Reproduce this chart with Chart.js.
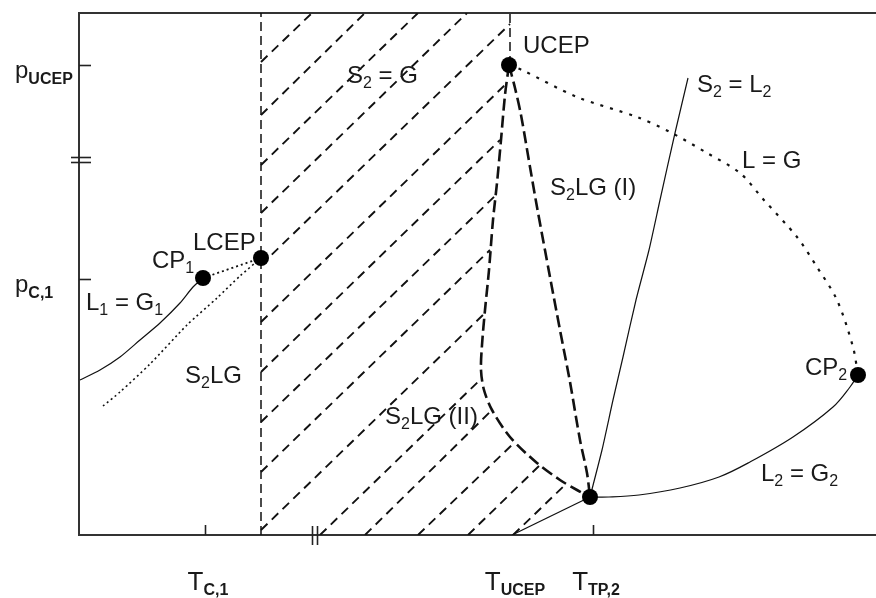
<!DOCTYPE html>
<html><head><meta charset="utf-8">
<script src="https://cdn.jsdelivr.net/npm/chart.js@4.4.1/dist/chart.umd.min.js"></script>
<style>html,body{margin:0;padding:0;background:#fff;} canvas{display:block;}</style>
</head><body>
<canvas id="c" width="876" height="598"></canvas>
<script>
// ---- data (arbitrary T units on x, arbitrary p units on y) ----
const curveL1G1   = [[1,155],[21,165],[41,178],[61,195],[81,212],[101,232],[114,248],[124,257]];
const curveS2LG   = [[24,129],[41,143],[71,171],[108,210],[138,237],[161,259],[182,277]];
const lineCP1LCEP = [[124,257],[182,277]];
const lineTLCEP   = [[182,0],[182,522]];
const lineUCEPtop = [[431,470],[431,522]];
const curveS2LG_II = [[430,470],[426,440],[422,395],[418,352],[414,315],[410,265],[406,225],[403,190],[402,165],[405,145],[413,125],[431,98],[458,72],[481,55],[498,45],[511,38]];
const curveS2LG_I  = [[430,470],[436,447],[442,420],[451,368],[458,328],[471,258],[481,205],[491,153],[501,95],[508,62],[511,38]];
const curveS2L2   = [[511,38],[523,85],[534,135],[544,178],[557,235],[570,285],[581,335],[596,402],[609,457]];
const lineTP2base = [[511,38],[433,0]];
const curveLG     = [[430,470],[443,465],[498,438],[558,418],[591,403],[628,382],[661,362],[684,336],[718,298],[738,268],[758,235],[774,188],[779,160]];
const curveL2G2   = [[511,38],[530,38],[560,40],[601,47],[640,58],[671,73],[714,98],[754,128],[771,148],[779,160]];
const hatchStarts = [[182,473],[182,420],[182,370],[182,322],[182,270],[182,213],[182,163],[182,113],[182,63],[182,5],[241,0],[286,0],[339,0],[389,0],[434,0]];
const hatchEnds   = [[233,522],[286,522],[339,522],[388,522],[431,511],[428,452],[421,395],[417,340],[411,285],[406,222],[403,157],[413,125],[436,93],[461,70],[487,51]];
const specialPoints = [[124,257],[182,277],[430,470],[511,38],[779,160]];
const xTickValues = [126,433,514];
const xTickMain   = ['T','T','T'];
const xTickSub    = ['C,1','UCEP','TP,2'];
const yTickValues = [470,256];
const yTickMain   = ['p','p'];
const yTickSub    = ['UCEP','C,1'];
const axisBreakX = 236;
const axisBreakY = 375;

// region labels: [text, isSubscript] parts, anchored at baseline-left in data units
const regionLabels = [
  {parts:[['UCEP',0]], at:[444,482]},
  {parts:[['S',0],['2',1],[' = G',0]], at:[268,452]},
  {parts:[['S',0],['2',1],[' = L',0],['2',1]], at:[618,443]},
  {parts:[['L = G',0]], at:[663,367]},
  {parts:[['S',0],['2',1],['LG (I)',0]], at:[471,340]},
  {parts:[['LCEP',0]], at:[114,285]},
  {parts:[['CP',0],['1',1]], at:[73,267]},
  {parts:[['L',0],['1',1],[' = G',0],['1',1]], at:[7,225]},
  {parts:[['S',0],['2',1],['LG',0]], at:[106,152]},
  {parts:[['S',0],['2',1],['LG (II)',0]], at:[306,111]},
  {parts:[['CP',0],['2',1]], at:[726,160]},
  {parts:[['L',0],['2',1],[' = G',0],['2',1]], at:[682,54]}
];

const INK = '#111';
const TXT = '#1a1a1a';
const FAM = '"Liberation Sans", Arial, sans-serif';
const toXY = arr => arr.map(p => ({x:p[0], y:p[1]}));

function lineDS(arr, opts) {
  return Object.assign({
    data: toXY(arr), showLine: true, pointRadius: 0, fill: false,
    borderColor: INK, borderWidth: 1.2, tension: 0.25
  }, opts || {});
}

const datasets = [
  {data: toXY(specialPoints), showLine:false, pointRadius:8, pointHoverRadius:8,
   backgroundColor:'#000', borderColor:'#000', borderWidth:0},
  lineDS(curveL1G1),
  lineDS(curveS2LG, {borderDash:[2,3], borderWidth:1.6}),
  lineDS(lineCP1LCEP, {borderDash:[2,3], borderWidth:1.8, tension:0}),
  lineDS(lineTLCEP, {borderDash:[9,5], borderWidth:1.5, tension:0}),
  lineDS(lineUCEPtop, {borderDash:[9,5], borderWidth:1.5, tension:0}),
  lineDS(curveS2LG_II, {borderDash:[12,5], borderWidth:2.6, tension:0.3}),
  lineDS(curveS2LG_I, {borderDash:[12,5], borderWidth:2.6, tension:0.3}),
  lineDS(curveS2L2, {tension:0.2}),
  lineDS(lineTP2base, {tension:0}),
  lineDS(curveLG, {borderDash:[3,7], borderWidth:2.2, tension:0.3}),
  lineDS(curveL2G2, {tension:0.35})
];
hatchStarts.forEach((s, i) => {
  datasets.push(lineDS([s, hatchEnds[i]], {borderDash:[9,6], borderWidth:1.9, tension:0}));
});

function drawRich(ctx, parts, x, y, mainFont, subFont, drop) {
  let cx = x;
  for (const [t, sub] of parts) {
    ctx.font = sub ? subFont : mainFont;
    ctx.fillText(t, cx, sub ? y + drop : y);
    cx += ctx.measureText(t).width;
  }
  return cx - x;
}
function richWidth(ctx, parts, mainFont, subFont) {
  let w = 0;
  for (const [t, sub] of parts) { ctx.font = sub ? subFont : mainFont; w += ctx.measureText(t).width; }
  return w;
}

const decorPlugin = {
  id: 'decor',
  afterDatasetsDraw(chart) {
    const ctx = chart.ctx, xs = chart.scales.x, ys = chart.scales.y, a = chart.chartArea;
    ctx.save();
    // inward tick marks
    ctx.strokeStyle = '#222'; ctx.lineWidth = 1.6;
    yTickValues.forEach(v => {
      const py = Math.round(ys.getPixelForValue(v)) + 0.5;
      ctx.beginPath(); ctx.moveTo(a.left, py); ctx.lineTo(a.left + 12, py); ctx.stroke();
    });
    [xTickValues[0], xTickValues[2]].forEach(v => {
      const px = Math.round(xs.getPixelForValue(v)) + 0.5;
      ctx.beginPath(); ctx.moveTo(px, a.bottom); ctx.lineTo(px, a.bottom - 10); ctx.stroke();
    });
    // axis breaks
    const by = ys.getPixelForValue(axisBreakY);
    [-2.5, 2.5].forEach(d => {
      ctx.beginPath(); ctx.moveTo(a.left - 8, by + d); ctx.lineTo(a.left + 12, by + d); ctx.stroke();
    });
    const bx = xs.getPixelForValue(axisBreakX);
    [-2.5, 2.5].forEach(d => {
      ctx.beginPath(); ctx.moveTo(bx + d, a.bottom - 9); ctx.lineTo(bx + d, a.bottom + 10); ctx.stroke();
    });
    // tick labels with subscripts
    ctx.fillStyle = TXT; ctx.textBaseline = 'alphabetic';
    const subB = 'bold 16px ' + FAM;
    yTickValues.forEach((v, i) => {
      const py = ys.getPixelForValue(v);
      drawRich(ctx, [[yTickMain[i],0],[yTickSub[i],1]], a.left - 64, py + 13, '24px ' + FAM, subB, 6);
    });
    xTickValues.forEach((v, i) => {
      const px = xs.getPixelForValue(v);
      const parts = [[xTickMain[i],0],[xTickSub[i],1]];
      const w = richWidth(ctx, parts, '26px ' + FAM, subB);
      drawRich(ctx, parts, px - w / 2 + 3, a.bottom + 55, '26px ' + FAM, subB, 5);
    });
    // region labels
    regionLabels.forEach(l => {
      drawRich(ctx, l.parts, xs.getPixelForValue(l.at[0]), ys.getPixelForValue(l.at[1]),
               '24px ' + FAM, '16px ' + FAM, 5);
    });
    ctx.restore();
  }
};

new Chart(document.getElementById('c'), {
  type: 'scatter',
  data: { datasets },
  options: {
    responsive: false, animation: false, devicePixelRatio: 1,
    layout: { padding: 0, autoPadding: false },
    plugins: { legend: {display:false}, tooltip: {enabled:false} },
    scales: {
      x: { type:'linear', position:'bottom', min:0, max:797,
           grid:{display:false}, ticks:{display:false},
           border:{display:true, color:'#333', width:2},
           afterFit: s => { s.height = 63; s.paddingLeft = 0; s.paddingRight = 0; } },
      x2: { type:'linear', position:'top', min:0, max:797,
           grid:{display:false}, ticks:{display:false},
           border:{display:true, color:'#333', width:2},
           afterFit: s => { s.height = 13; s.paddingLeft = 0; s.paddingRight = 0; } },
      y: { type:'linear', position:'left', min:0, max:522,
           grid:{display:false}, ticks:{display:false},
           border:{display:true, color:'#333', width:2},
           afterFit: s => { s.width = 79; s.paddingTop = 0; s.paddingBottom = 0; } }
    }
  },
  plugins: [decorPlugin]
});
</script>
</body></html>
